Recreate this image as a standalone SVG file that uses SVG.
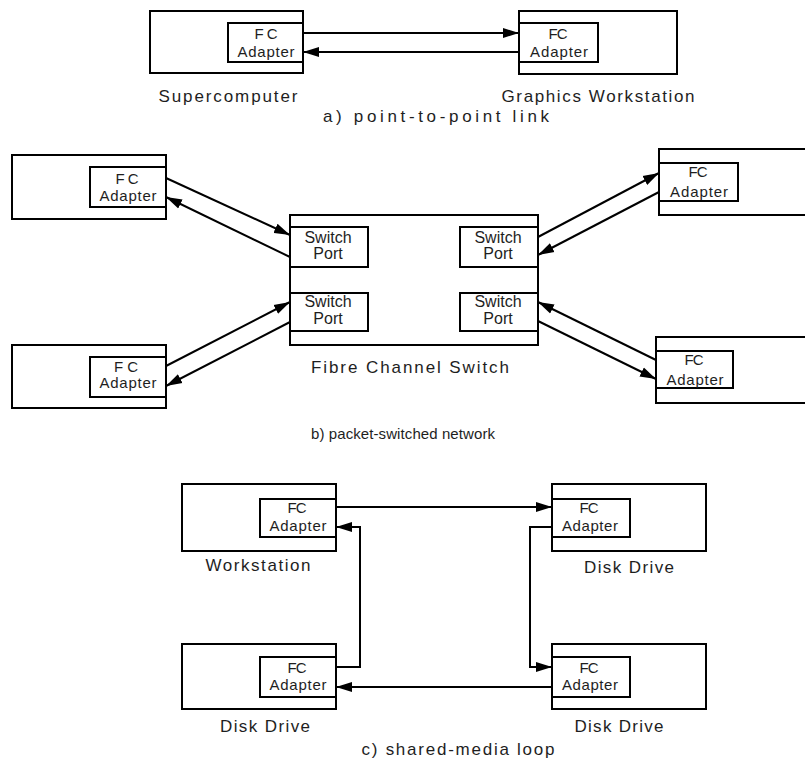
<svg xmlns="http://www.w3.org/2000/svg" width="805" height="762" viewBox="0 0 805 762">
<style>
rect{fill:none;stroke:#000;stroke-width:2}
text{font-family:"Liberation Sans",Arial,sans-serif;font-size:16px;fill:#1e1e1e;text-anchor:middle}
.ad{font-size:15px}
.lb{font-size:17px}
.ln{fill:none;stroke:#000;stroke-width:2;marker-end:url(#ah)}
</style>
<defs>
<marker id="ah" markerUnits="userSpaceOnUse" markerWidth="17" markerHeight="11" refX="16" refY="5.5" orient="auto">
<path d="M0,0.5 L16,5.5 L0,10.5 z" fill="#000"/>
</marker>
</defs>
<rect x="0" y="0" width="805" height="762" style="fill:#fff;stroke:none"/>

<g id="supercomputer">
<rect x="150" y="11" width="153" height="62"/>
<rect x="228" y="23" width="75" height="39"/>
<text class="ad" x="266" y="39" textLength="23" lengthAdjust="spacing">FC</text>
<text class="ad" x="266" y="57" textLength="57" lengthAdjust="spacing">Adapter</text>
<text class="lb" x="228" y="102" textLength="139" lengthAdjust="spacing">Supercomputer</text>
</g>
<g id="graphics-workstation">
<rect x="519" y="11" width="158" height="63"/>
<rect x="519" y="23" width="79" height="39"/>
<text class="ad" x="558" y="39" textLength="19" lengthAdjust="spacing">FC</text>
<text class="ad" x="559" y="57" textLength="58" lengthAdjust="spacing">Adapter</text>
<text class="lb" x="598" y="102" textLength="193" lengthAdjust="spacing">Graphics Workstation</text>
</g>
<text id="caption-a" class="lb" x="436" y="122" textLength="226" lengthAdjust="spacing">a) point-to-point link</text>

<g id="host-tl">
<rect x="12" y="155" width="154" height="64"/>
<rect x="90" y="167" width="76" height="40"/>
<text class="ad" x="127" y="184" textLength="23" lengthAdjust="spacing">FC</text>
<text class="ad" x="128" y="201" textLength="57" lengthAdjust="spacing">Adapter</text>
</g>
<g id="host-bl">
<rect x="12" y="345" width="154" height="63"/>
<rect x="90" y="357" width="76" height="40"/>
<text class="ad" x="126" y="372" textLength="24" lengthAdjust="spacing">FC</text>
<text class="ad" x="128" y="388" textLength="57" lengthAdjust="spacing">Adapter</text>
</g>
<g id="host-tr">
<rect x="659" y="149" width="160" height="66"/>
<rect x="659" y="163" width="79" height="38"/>
<text class="ad" x="698" y="177" textLength="19" lengthAdjust="spacing">FC</text>
<text class="ad" x="699" y="197" textLength="58" lengthAdjust="spacing">Adapter</text>
</g>
<g id="host-br">
<rect x="656" y="337" width="160" height="66"/>
<rect x="656" y="351" width="77" height="37"/>
<text class="ad" x="694" y="365" textLength="19" lengthAdjust="spacing">FC</text>
<text class="ad" x="695" y="385" textLength="57" lengthAdjust="spacing">Adapter</text>
</g>
<g id="fc-switch">
<rect x="290" y="215" width="248" height="130"/>
<rect x="290" y="227" width="78" height="40"/>
<rect x="290" y="293" width="78" height="38"/>
<rect x="460" y="227" width="78" height="40"/>
<rect x="460" y="293" width="78" height="38"/>
<text x="328" y="243">Switch</text>
<text x="328" y="259">Port</text>
<text x="328" y="307">Switch</text>
<text x="328" y="324">Port</text>
<text x="498" y="243">Switch</text>
<text x="498" y="259">Port</text>
<text x="498" y="307">Switch</text>
<text x="498" y="324">Port</text>
<text class="lb" x="410" y="373" textLength="198" lengthAdjust="spacing">Fibre Channel Switch</text>
</g>
<text id="caption-b" x="403" y="439" style="font-size:15px" textLength="184" lengthAdjust="spacing">b) packet-switched network</text>

<g id="workstation">
<rect x="182" y="484" width="154" height="67"/>
<rect x="260" y="499" width="76" height="38"/>
<text class="ad" x="297" y="513" textLength="19" lengthAdjust="spacing">FC</text>
<text class="ad" x="298" y="531" textLength="57" lengthAdjust="spacing">Adapter</text>
<text class="lb" x="258" y="571" textLength="105" lengthAdjust="spacing">Workstation</text>
</g>
<g id="disk-tr">
<rect x="552" y="484" width="154" height="67"/>
<rect x="552" y="499" width="78" height="38"/>
<text class="ad" x="589" y="513" textLength="19" lengthAdjust="spacing">FC</text>
<text class="ad" x="590" y="531" textLength="56" lengthAdjust="spacing">Adapter</text>
<text class="lb" x="629" y="573" textLength="90" lengthAdjust="spacing">Disk Drive</text>
</g>
<g id="disk-bl">
<rect x="182" y="644" width="154" height="65"/>
<rect x="260" y="657" width="76" height="40"/>
<text class="ad" x="297" y="673" textLength="19" lengthAdjust="spacing">FC</text>
<text class="ad" x="298" y="690" textLength="57" lengthAdjust="spacing">Adapter</text>
<text class="lb" x="265" y="732" textLength="90" lengthAdjust="spacing">Disk Drive</text>
</g>
<g id="disk-br">
<rect x="552" y="644" width="154" height="65"/>
<rect x="552" y="657" width="78" height="40"/>
<text class="ad" x="589" y="673" textLength="19" lengthAdjust="spacing">FC</text>
<text class="ad" x="590" y="690" textLength="56" lengthAdjust="spacing">Adapter</text>
<text class="lb" x="619" y="732" textLength="89" lengthAdjust="spacing">Disk Drive</text>
</g>
<text id="caption-c" class="lb" x="458" y="755" textLength="193" lengthAdjust="spacing">c) shared-media loop</text>

<g id="connectors">
<line class="ln" x1="303" y1="33" x2="519" y2="33"/>
<line class="ln" x1="519" y1="52" x2="303" y2="52"/>
<line class="ln" x1="166" y1="178" x2="290" y2="235"/>
<line class="ln" x1="290" y1="257" x2="166" y2="197"/>
<line class="ln" x1="166" y1="366" x2="290" y2="302"/>
<line class="ln" x1="290" y1="322" x2="166" y2="386"/>
<line class="ln" x1="538" y1="237" x2="659" y2="173"/>
<line class="ln" x1="659" y1="192" x2="538" y2="255"/>
<line class="ln" x1="656" y1="360" x2="538" y2="302"/>
<line class="ln" x1="538" y1="321" x2="656" y2="379"/>
<line class="ln" x1="336" y1="507" x2="552" y2="507"/>
<polyline class="ln" points="552,527 530,527 530,667 552,667"/>
<line class="ln" x1="552" y1="687" x2="336" y2="687"/>
<polyline class="ln" points="336,667 360,667 360,527 336,527"/>
</g>
</svg>
